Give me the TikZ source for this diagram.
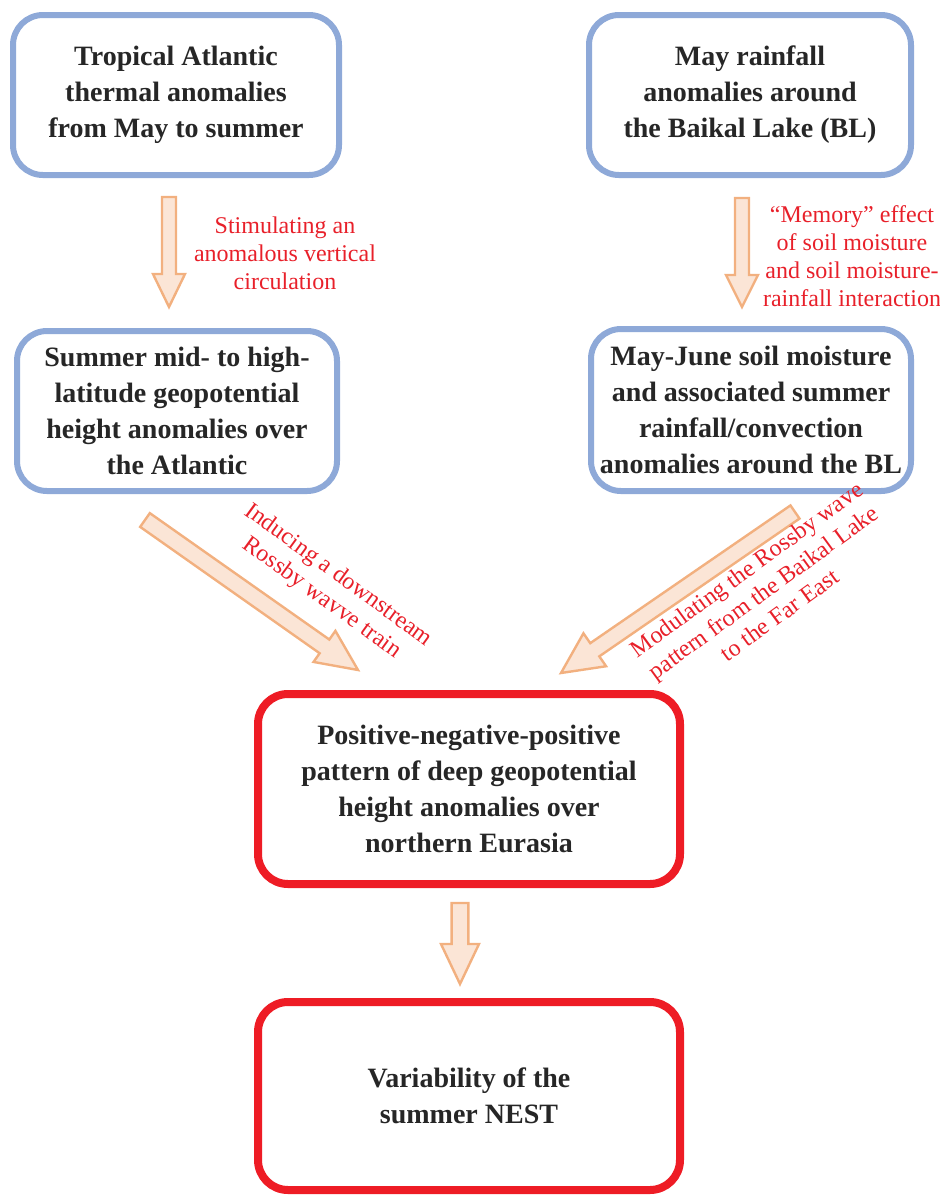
\documentclass[tikz,border=0pt]{standalone}
\usepackage{fontspec}
\setmainfont{Liberation Serif}
\usepackage{xcolor}
\usepackage{tikz}
\usetikzlibrary{calc}
\usetikzlibrary{positioning}

\definecolor{boxblue}{HTML}{8EA9D8}
\definecolor{boxred}{HTML}{EE1C25}
\definecolor{notered}{HTML}{E8202A}
\definecolor{arrfill}{HTML}{FBE5D6}
\definecolor{arrline}{HTML}{F2B07F}

\tikzset{
	bluebox/.style = {draw=boxblue, line width=3pt, rounded corners=15pt, fill=white,
		align=center, font=\fontsize{14}{18}\selectfont\bfseries, text=black!85,
		minimum width=161pt, minimum height=80pt, inner sep=0pt},
	redbox/.style = {bluebox, draw=boxred, line width=4pt, minimum width=211pt, minimum height=95pt},
	note/.style = {align=center, text=notered, font=\fontsize{12}{14}\selectfont, inner sep=0pt},
	fatarr/.style = {fill=arrfill, draw=arrline, line width=1.2pt, line join=miter}
}

% fat hollow arrow: start, tip, half shaft, half head, head length
\newcommand{\fatarrow}[5]{
	\path ($(#2)!#5!(#1)$) coordinate (hb);
	\filldraw[fatarr] ($(#1)!#3!90:(#2)$) -- ($(hb)!#3!-90:(#1)$) -- ($(hb)!#4!-90:(#1)$)
		-- (#2) -- ($(hb)!#4!90:(#1)$) -- ($(hb)!#3!90:(#1)$) -- ($(#1)!#3!-90:(#2)$) -- cycle;
}

\begin{document}
\begin{tikzpicture}[x = 0.5pt, y = -0.5pt]
	\useasboundingbox (0,0) rectangle (940,1196);
	
	\node[bluebox, minimum width=163pt] (trop) at (176,95) {Tropical Atlantic\\thermal anomalies\\from May to summer};
	\node[bluebox] (bai) at (750,95) {May rainfall\\anomalies around\\the Baikal Lake (BL)};
	\node[bluebox, minimum width=160pt] (atl) at (177,411) {Summer mid- to high-\\latitude geopotential\\height anomalies over\\the Atlantic};
	\node[bluebox, minimum width=160pt, minimum height=81pt] (soil) at (751,410) {May-June soil moisture\\and associated summer\\rainfall/convection\\anomalies around the BL};
	\node[redbox] (pnp) at (469,789) {Positive-negative-positive\\pattern of deep geopotential\\height anomalies over\\northern Eurasia};
	\node[redbox, minimum height=94pt] (nest) at (469,1096) {Variability of the\\summer NEST};
	
	\coordinate (a1s) at ($(trop.south)+(-7,19)$);
	\coordinate (a1e) at ($(atl.north)+(-8,-21)$);
	\coordinate (a2s) at ($(bai.south)+(-8,20)$);
	\coordinate (a2e) at ($(soil.north)+(-9,-19)$);
	\coordinate (a3s) at ($(atl.south)+(-32,26)$);
	\coordinate (a3e) at ($(pnp.north west)+(104,-20)$);
	\coordinate (a4s) at ($(soil.south)+(44,18)$);
	\coordinate (a4e) at ($(pnp.north east)+(-123,-17)$);
	\coordinate (a5s) at ($(pnp.south)+(-9,15)$);
	\coordinate (a5e) at ($(nest.north)+(-9,-14)$);
	
	\fatarrow{a1s}{a1e}{3.5pt}{8pt}{16.5pt}
	\fatarrow{a2s}{a2e}{3.5pt}{8pt}{16pt}
	\fatarrow{a3s}{a3e}{4.2pt}{9.5pt}{20.5pt}
	\fatarrow{a4s}{a4e}{4pt}{10pt}{20.5pt}
	\fatarrow{a5s}{a5e}{4.2pt}{9.5pt}{20pt}
	
	\node[note] (n1) at (285,253) {Stimulating an\\anomalous vertical\\circulation};
	\node[note] (n2) at (852,256) {``Memory'' effect\\of soil moisture\\and soil moisture-\\rainfall interaction};
	\node[note, rotate=-36] (n3) at (330,587) {Inducing a downstream\\Rossby wavve train};
	\node[note, rotate=36] (n4) at (763,592) {Modulating the Rossby wave\\pattern from the Baikal Lake\\to the Far East};
	
\end{tikzpicture}
\end{document}
